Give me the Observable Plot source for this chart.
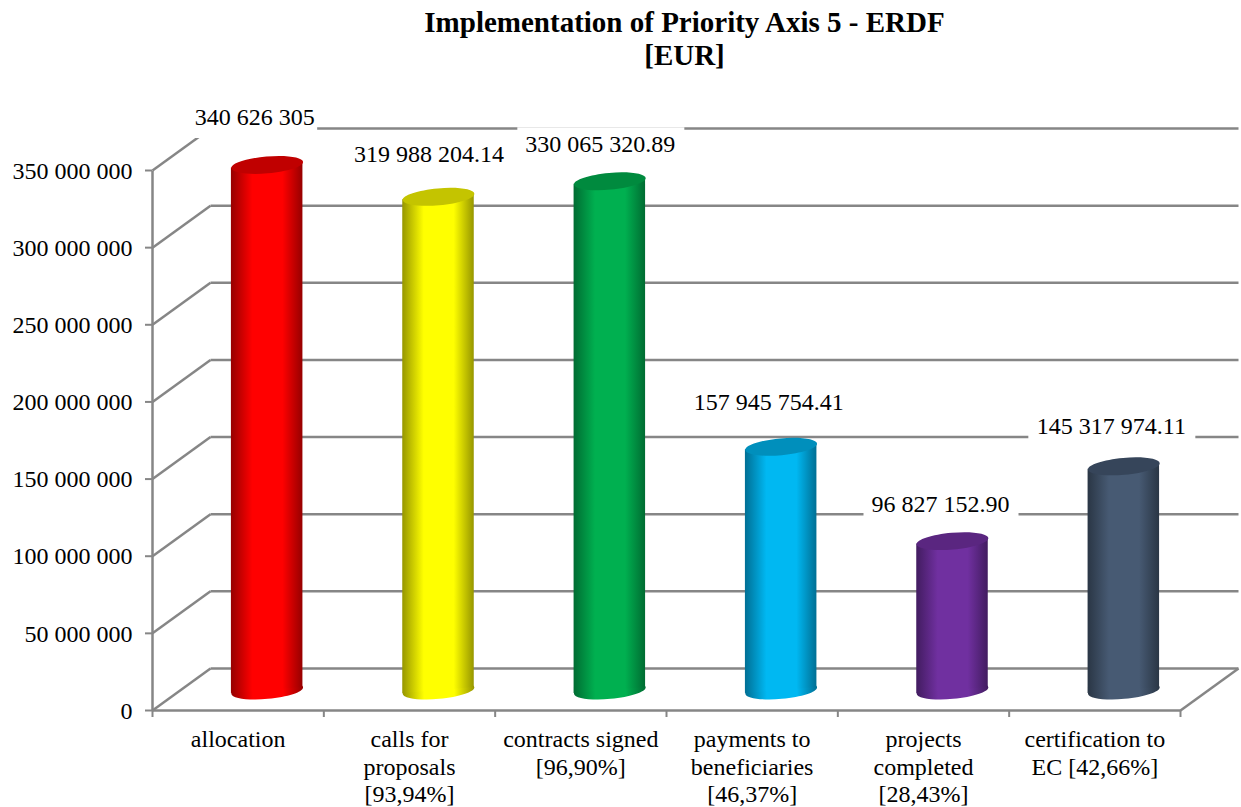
<!DOCTYPE html>
<html>
<head>
<meta charset="utf-8">
<script src="https://cdn.jsdelivr.net/npm/d3@7"></script>
<script src="https://cdn.jsdelivr.net/npm/@observablehq/plot@0.6"></script>
<style>
html,body{margin:0;padding:0;background:#fff;overflow:hidden}
#title{box-sizing:border-box;width:1241px;height:90px;padding:6px 0 0 128px;text-align:center;font:bold 29px/33px "Liberation Serif",serif;color:#000}
svg{display:block}
</style>
</head>
<body>
<div id="title">Implementation of Priority Axis 5 - ERDF<br>[EUR]</div>
<div id="chart"></div>
<script>
const categories = ["allocation","calls for\nproposals\n[93,94%]","contracts signed\n[96,90%]","payments to\nbeneficiaries\n[46,37%]","projects\ncompleted\n[28,43%]","certification to\nEC [42,66%]"];
const values = [340626305,319988204.14,330065320.89,157945754.41,96827152.90,145317974.11];
const valueLabels = ["340 626 305","319 988 204.14","330 065 320.89","157 945 754.41","96 827 152.90","145 317 974.11"];
const yTicks = [0,50e6,100e6,150e6,200e6,250e6,300e6,350e6];
const bodyColors = ["#ff0000","#ffff00","#00b050","#00b8f2","#7030a0","#475a73"];
const edgeColors = ["#960000","#969600","#006c32","#006f94","#421c60","#2a3645"];
const topColors = ["#c00000","#c4c400","#008a3e","#008fbc","#5a2680","#36455a"];

// label nudges in pixels, relative to each cylinder's value
const labelDx = [17,20,20,17,17.5,17];
const labelDy = [-66,-61,-55,-63,-55.5,-58];
const textLift = -1.5;
const boxWidths = [124,160,167,160,155,167];
const boxHeight = 38;

const W = 1241, H = 717;
const left = 152, right = 1180, top0 = 80, bottom = 620;
const unitX = 6 / (right - left), unitY = 350e6 / (bottom - top0);
const depthX = 58 * unitX, depthY = 42 * unitY;
const baseY = 20 * unitY, tiltY = 3 * unitY;
const halfBar = 35.75 * unitX;
const centerX = i => i + 0.5 + depthX / 2;
const gridColor = "#868686", gridWidth = 2.5;
const serif = "Liberation Serif";
const fontPx = 24;

// tilted ellipse symbol for the cylinder ends
const tiltedEllipse = {
  draw(ctx) {
    const rx = 36, ry = 8.4, a = -5 * Math.PI / 180, k = 0.5523;
    const p = (x, y) => [x * Math.cos(a) - y * Math.sin(a), x * Math.sin(a) + y * Math.cos(a)];
    ctx.moveTo(...p(rx, 0));
    ctx.bezierCurveTo(...p(rx, k * ry), ...p(k * rx, ry), ...p(0, ry));
    ctx.bezierCurveTo(...p(-k * rx, ry), ...p(-rx, k * ry), ...p(-rx, 0));
    ctx.bezierCurveTo(...p(-rx, -k * ry), ...p(-k * rx, -ry), ...p(0, -ry));
    ctx.bezierCurveTo(...p(k * rx, -ry), ...p(rx, -k * ry), ...p(rx, 0));
    ctx.closePath();
  }
};
const boxSymbol = (w, h) => ({draw(ctx) { ctx.rect(-w / 2, -h / 2, w, h); }});

function gradients() {
  const defs = d3.create("svg:defs");
  bodyColors.forEach((c, i) => {
    const g = defs.append("linearGradient").attr("id", "cyl" + i).attr("x1", 0).attr("x2", 1).attr("y1", 0).attr("y2", 0);
    [[0, edgeColors[i]], [0.3, c], [0.72, c], [1, edgeColors[i]]].forEach(([o, col]) =>
      g.append("stop").attr("offset", o).attr("stop-color", col));
  });
  return defs.node();
}

const link = (pts) => Plot.link(pts, {x1: "x1", y1: "y1", x2: "x2", y2: "y2", stroke: gridColor, strokeWidth: gridWidth});

const marks = [
  gradients,
  // back wall and side wall lines
  link(yTicks.map(v => ({x1: depthX, x2: 6 + depthX, y1: v + depthY, y2: v + depthY}))),
  link(yTicks.map(v => ({x1: 0, x2: depthX, y1: v, y2: v + depthY}))),
  link([{x1: 6, x2: 6 + depthX, y1: 0, y2: depthY}]),
  link([{x1: 0, x2: 0, y1: 0, y2: 350e6}]),
  link([{x1: 0, x2: 6, y1: 0, y2: 0}]),
  Plot.axisY({ticks: yTicks, tickSize: 7, stroke: gridColor, strokeWidth: 2, label: null, tickFormat: () => ""}),
  Plot.axisY({ticks: yTicks, tickSize: 0, tickPadding: 20, dy: 0.5, label: null,
    fontSize: fontPx, fontFamily: serif, fill: "#000",
    tickFormat: d3.formatLocale({thousands: " ", grouping: [3], decimal: ".", currency: ["", ""]}).format(",")}),
  Plot.axisX({ticks: d3.range(7), tickSize: 7, stroke: gridColor, strokeWidth: 2, label: null, tickFormat: () => ""}),
  // white boxes behind the value labels
  ...values.map((v, i) => Plot.dot([v], {
    x: () => i + 0.5, y: d => d, dx: labelDx[i], dy: labelDy[i], r: 1,
    symbol: boxSymbol(boxWidths[i], boxHeight), fill: "#fff", stroke: "none"
  })),
  // cylinders
  ...values.map((v, i) => [
    Plot.dot([v], {x: () => centerX(i), y: () => baseY, r: 1, symbol: tiltedEllipse, fill: `url(#cyl${i})`, stroke: "none"}),
    Plot.areaY([-1, 1], {
      x: s => centerX(i) + s * halfBar,
      y1: s => baseY + s * tiltY,
      y2: s => v + baseY + s * tiltY,
      fill: `url(#cyl${i})`
    }),
    Plot.dot([v], {x: () => centerX(i), y: d => d + baseY, r: 1, symbol: tiltedEllipse, fill: topColors[i], stroke: "none"})
  ]).flat(),
  // value labels
  ...values.map((v, i) => Plot.text([valueLabels[i]], {
    x: () => i + 0.5, y: () => v, dx: labelDx[i] - 0.5, dy: labelDy[i] + textLift, text: d => d,
    fontSize: fontPx, fontFamily: serif, fill: "#000"
  })),
  // category labels
  Plot.text(categories, {
    x: (d, i) => i + 0.5, y: () => 0, text: d => d, dy: 17, lineAnchor: "top", lineHeight: 1.15,
    fontSize: fontPx, fontFamily: serif, fill: "#000"
  })
];

const chart = Plot.plot({
  width: W, height: H,
  marginLeft: left, marginRight: W - right, marginTop: top0, marginBottom: H - bottom,
  x: {domain: [0, 6], axis: null},
  y: {domain: [0, 350e6], axis: null},
  style: {background: "#fff", overflow: "visible"},
  marks
});
document.getElementById("chart").appendChild(chart);
</script>
</body>
</html>
